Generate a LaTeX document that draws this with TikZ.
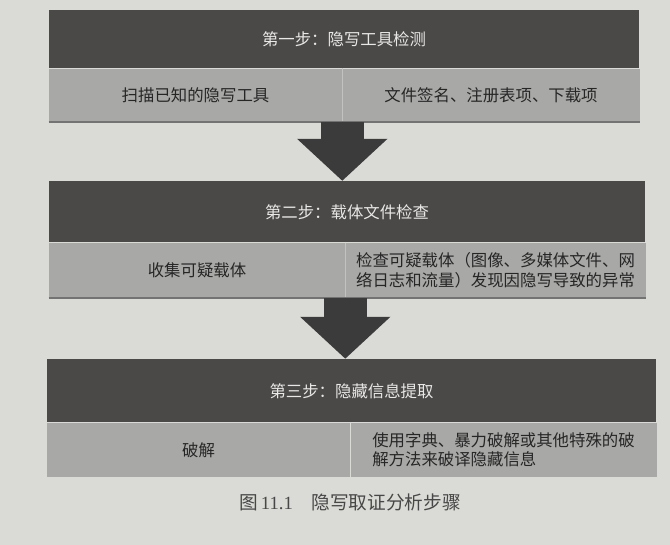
\documentclass[tikz,border=0pt]{standalone}
\usepackage{fontspec}
\setmainfont{Liberation Serif}
\newfontfamily\cjk{Noto Sans CJK SC}
\usepackage{tikz}
\usetikzlibrary{positioning,arrows.meta}

\definecolor{paper}{HTML}{DADAD6}
\definecolor{bardark}{HTML}{4B4848}
\definecolor{barlight}{HTML}{A8A8A6}
\definecolor{arrowdark}{HTML}{3C3B3B}
\definecolor{inkdark}{HTML}{262626}
\definecolor{inklight}{HTML}{E8E8E6}

\begin{document}
\begin{tikzpicture}[x=0.75pt,y=-0.75pt,
  head node/.style={fill=bardark,text=inklight,inner sep=0pt,
    font=\cjk\fontsize{12.3pt}{14.3pt}\selectfont},
  cell node/.style={fill=barlight,text=inkdark,inner sep=0pt,align=left,
    font=\cjk\fontsize{12.3pt}{14.3pt}\selectfont},
  cap node/.style={text=inkdark!85,font=\fontsize{14pt}{16pt}\selectfont},
  divider/.style={draw=barlight!70!white,line width=0.6pt},
  bar edge/.style={draw=black!55,line width=1.5pt},
  flow arrow/.style={draw=arrowdark,line width=32.5pt,
    -{Triangle[width=66pt,length=31.5pt]}}]

  \fill[paper] (0,0) rectangle (670,545);

  % first step
  \node[head node, minimum width=442.5pt, minimum height=43.5pt] (1) at (344,39) {第一步：隐写工具检测};
  \node[cell node, minimum width=219.75pt, minimum height=39.75pt, below right=0pt of 1.south west] (2) {扫描已知的隐写工具};
  \node[cell node, minimum width=222.75pt, minimum height=39.75pt, right=0pt of 2] (3) {文件签名、注册表项、下载项};

  % second step
  \node[head node, minimum width=447pt, minimum height=46pt] (4) at (347,211.75) {第二步：载体文件检查};
  \node[cell node, minimum width=222pt, minimum height=41pt, below right=0pt of 4.south west] (5) {收集可疑载体};
  \node[cell node, minimum width=225pt, minimum height=41pt, right=0pt of 5] (6) {检查可疑载体（图像、多媒体文件、网\\络日志和流量）发现因隐写导致的异常};

  % third step
  \node[head node, minimum width=456.75pt, minimum height=47.6pt] (7) at (351.5,390.75) {第三步：隐藏信息提取};
  \node[cell node, minimum width=227.25pt, minimum height=40.5pt, below right=0pt of 7.south west] (8) {破解};
  \node[cell node, minimum width=229.5pt, minimum height=40.5pt, right=0pt of 8] (9) {使用字典、暴力破解或其他特殊的破\\解方法来破译隐藏信息};

  \node[cap node] (10) at (350,502) {{\cjk 图}\,11.1\quad{\cjk 隐写取证分析步骤}};

\draw [divider] (2.north east) -- (2.south east);
\draw [divider] (5.north east) -- (5.south east);
\draw [bar edge] (2.south west) -- (3.south east);
\draw [bar edge] (5.south west) -- (6.south east);

\draw [flow arrow] (2.south east) -- (2.south east |- 4.north);
\draw [flow arrow] (5.south east) -- (5.south east |- 7.north);

\end{tikzpicture}
\end{document}
